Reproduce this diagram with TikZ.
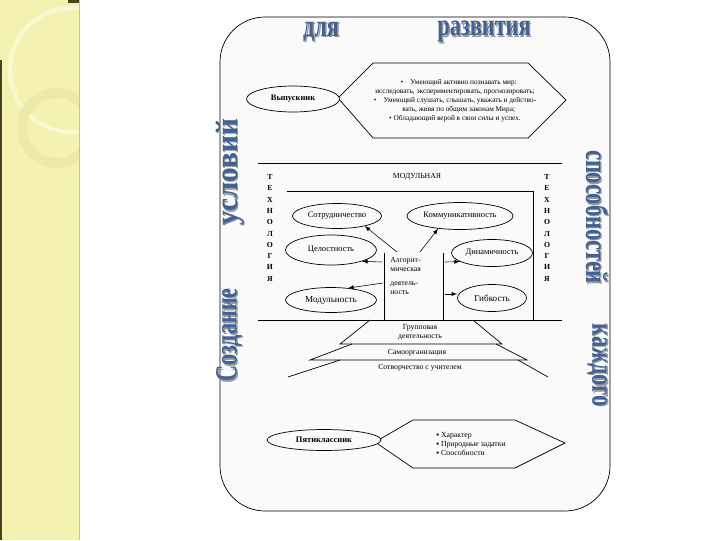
\documentclass[tikz,border=0pt]{standalone}
\usepackage{fontspec}
\setmainfont{Liberation Serif}
\usetikzlibrary{shapes.geometric}
\definecolor{stripyel}{RGB}{244,242,176}
\definecolor{stripring}{RGB}{237,234,168}
\definecolor{stripdark}{RGB}{72,66,30}
\definecolor{bigblue}{RGB}{66,98,150}
\definecolor{bgpanel}{RGB}{250,250,250}

\begin{document}
\begin{tikzpicture}[x=0.025cm, y=-0.025cm, line width=0.5pt,
  ell/.style 2 args={ellipse, draw, minimum width=#1*0.025cm, minimum height=#2*0.025cm,
    inner sep=0pt, font=\fontsize{6}{7}\selectfont},
  lbl/.style={inner sep=0pt, font=\fontsize{5.5}{6.6}\selectfont},
  arr/.style={-latex, line width=0.4pt},
  big/.style={inner sep=0pt, font=\fontsize{22}{24}\selectfont\bfseries, text=bigblue},
  bigsh/.style={big, text=black!40}]

% Background
\useasboundingbox (0,0) rectangle (720,540);
\fill[white] (0,0) rectangle (720,540);

% Side strip
\fill[stripyel] (0,0) rectangle (79,540);
\begin{scope}
\clip (0,0) rectangle (79,540);
\draw[white, opacity=0.45, line width=3pt] (72,70) circle (62);
\draw[stripring, line width=7pt] (57,128) circle (35);
\end{scope}
\fill[stripdark] (0,60) rectangle (2,540);
\fill[stripdark] (68,0) rectangle (80,3);
\draw[black!25] (79,0) -- (79,540);

% Frame
\draw[fill=bgpanel, rounded corners=32pt] (220,17) rectangle (610,511);

% Title words round the frame
\foreach \nm/\x/\y/\rot/\xs/\txt in {
dlya/321/32/0/0.72/для,
razv/484/32/0/0.72/развития,
sozd/229/335/90/0.72/Создание,
uslov/230/172/90/0.95/условий,
sposob/597/217/-90/0.72/способностей,
kazhd/597/365/-90/0.72/каждого
}{
\node[bigsh, xshift=1pt, yshift=-1pt, rotate=\rot, xscale=\xs] (\nm sh) at (\x,\y) {\txt};
\node[big, rotate=\rot, xscale=\xs] (\nm) at (\x,\y) {\txt};
}

% Graduate
\draw (338,98) -- (373,63) -- (528,63) -- (566,100) -- (528,138) -- (373,138) -- cycle;
\node[ell={93}{26}, fill=bgpanel, font=\fontsize{6}{7}\selectfont\bfseries] (vyp) at (293,99) {Выпускник};
\node[lbl, align=center, font=\fontsize{5.2}{6.4}\selectfont] (vyptxt) at (455,101)
{\quad•\quad Умеющий активно познавать мир:\\
исследовать, экспериментировать, прогнозировать;\\
•\quad Умеющий слушать, слышать, уважать и действо-\\
\quad вать, живя по общим законам Мира;\\
• Обладающий верой в свои силы и успех.};

% Modular technology block
\draw (258,163) -- (562,163);
\draw (258,320) -- (562,320);
\draw (287,191) -- (533,191) -- (533,320);
\draw (384,253) -- (384,320);
\draw (443,253) -- (443,320);
\node[lbl] (modt) at (417,177) {МОДУЛЬНАЯ};

\foreach \ch [count=\i] in {Т,Е,Х,Н,О,Л,О,Г,И,Я}{
\node[lbl, font=\fontsize{5.5}{6.6}\selectfont\bfseries] (tl\i) at (270,{177+11.3*(\i-1)}) {\ch};
\node[lbl, font=\fontsize{5.5}{6.6}\selectfont\bfseries] (tr\i) at (547,{177+11.3*(\i-1)}) {\ch};
}

\node[ell={89}{25}] (sotr) at (337,216) {Сотрудничество};
\node[ell={106}{27}] (komm) at (460,216) {Коммуникативность};
\node[ell={91}{30}] (cel) at (331,250) {Целостность};
\node[ell={81}{27}] (din) at (492,253) {Динамичность};
\node[ell={91}{25}, font=\fontsize{6.5}{7.5}\selectfont] (mod) at (331,300) {Модульность};
\node[ell={69}{27}, font=\fontsize{6.5}{7.5}\selectfont] (gib) at (492,298) {Гибкость};

\node[lbl, anchor=north west, align=left] (alg) at (390,257)
{Алгорит-\\мическая\\[3pt]деятель-\\ность};

\coordinate (s1) at (397,252);
\coordinate (s2) at (420,252);
\coordinate (s3) at (382,262);
\coordinate (s4) at (383,283);
\coordinate (s5) at (445,262);
\coordinate (s6) at (445,294);
\draw[arr] (s1) -- (sotr.-20);
\draw[arr] (s2) -- (komm.-150);
\draw[arr] (s3) -- (cel.-20);
\draw[arr] (s4) -- (mod.35);
\draw[arr] (s5) -- (din.195);
\draw[arr] (s6) -- (s6 -| gib.west);

% Levels below
\draw (370,320) -- (340,344) -- (502,344) -- (473,320);
\draw (352,344) -- (310,360) -- (527,360) -- (496,344);
\draw (340,360) -- (288,377);
\draw (518,360) -- (548,377);
\node[lbl, align=center, font=\fontsize{5.5}{6}\selectfont] (grup) at (420,332) {Групповая\\деятельность};
\node[lbl] (samo) at (417,353) {Самоорганизация};
\node[lbl] (sotv) at (420,368) {Сотворчество с учителем};

% Fifth-former
\draw (375,442) -- (413,420) -- (515,420) -- (565,443) -- (515,468) -- (413,468) -- cycle;
\node[ell={114}{21}, fill=bgpanel, font=\fontsize{6}{7}\selectfont\bfseries] (pyat) at (324,440) {Пятиклассник};
\node[lbl, anchor=west, align=left] (pyattxt) at (436,444)
{▪ Характер\\▪ Природные задатки\\▪ Способности};

\end{tikzpicture}
\end{document}
